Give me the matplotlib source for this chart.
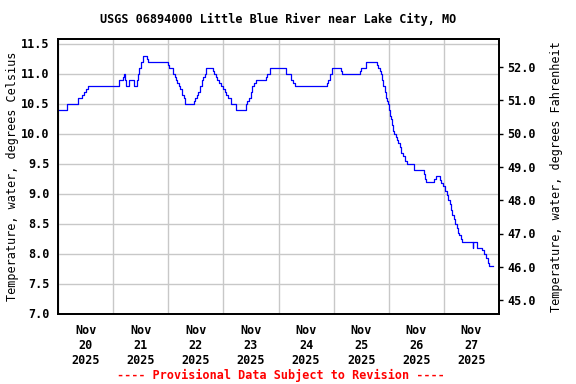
import numpy as np
import pandas as pd
import matplotlib
matplotlib.use("Agg")
import matplotlib.pyplot as plt
from matplotlib.ticker import FormatStrFormatter

# change points of the record: hours after 2025-11-20 00:00 and deg C (10 per line)
hours = [0.0, 3.9, 8.8, 10.3, 11.4, 12.0, 12.9, 26.4, 28.1, 28.7,
         29.1, 29.6, 30.7, 32.9, 34.3, 34.9, 35.3, 36.1, 36.8, 38.8,
         39.3, 48.0, 48.4, 50.1, 50.9, 51.3, 51.9, 52.6, 53.3, 53.9,
         54.8, 55.5, 59.1, 59.7, 60.3, 61.0, 61.7, 62.5, 63.2, 63.9,
         64.6, 67.3, 67.8, 68.7, 69.4, 70.1, 70.9, 71.9, 72.6, 73.3,
         74.1, 75.2, 77.4, 81.7, 82.5, 83.2, 83.9, 84.6, 85.4, 86.1,
         90.4, 91.2, 92.3, 99.4, 101.6, 102.3, 103.0, 117.1, 117.5, 118.6,
         119.3, 123.3, 123.8, 131.3, 132.0, 134.2, 139.0, 139.4, 140.0, 140.6,
         141.2, 141.7, 142.2, 142.6, 143.2, 143.6, 144.0, 144.5, 144.9, 145.4,
         145.8, 146.5, 147.0, 147.4, 148.0, 148.7, 149.4, 150.1, 150.9, 151.9,
         154.9, 155.2, 159.3, 159.9, 160.3, 163.9, 164.7, 166.4, 166.8, 167.8,
         168.6, 169.3, 170.0, 170.7, 171.2, 171.6, 172.3, 173.0, 173.6, 174.3,
         174.8, 175.5, 175.8, 180.6, 180.85, 182.3, 184.6, 185.3, 186.4, 187.1,
         187.5, 189.3]
temp_c = [10.4, 10.5, 10.6, 10.65, 10.7, 10.75, 10.8, 10.9, 10.95, 11.0,
          10.9, 10.8, 10.9, 10.8, 10.9, 11.0, 11.1, 11.2, 11.3, 11.25,
          11.2, 11.15, 11.1, 11.0, 10.95, 10.9, 10.85, 10.8, 10.75, 10.65,
          10.6, 10.5, 10.55, 10.6, 10.65, 10.7, 10.8, 10.9, 10.95, 11.0,
          11.1, 11.05, 11.0, 10.95, 10.9, 10.85, 10.8, 10.75, 10.7, 10.65,
          10.6, 10.5, 10.4, 10.5, 10.55, 10.6, 10.7, 10.8, 10.85, 10.9,
          10.95, 11.0, 11.1, 11.0, 10.9, 10.85, 10.8, 10.85, 10.9, 11.0,
          11.1, 11.05, 11.0, 11.05, 11.1, 11.2, 11.15, 11.1, 11.05, 11.0,
          10.9, 10.8, 10.7, 10.6, 10.55, 10.5, 10.4, 10.3, 10.25, 10.15,
          10.05, 10.0, 9.95, 9.9, 9.85, 9.78, 9.68, 9.62, 9.55, 9.5,
          9.45, 9.4, 9.33, 9.25, 9.2, 9.25, 9.3, 9.22, 9.17, 9.12,
          9.05, 8.97, 8.9, 8.82, 8.73, 8.65, 8.58, 8.5, 8.42, 8.35,
          8.3, 8.25, 8.2, 8.1, 8.2, 8.1, 8.05, 8.0, 7.92, 7.85,
          7.8, 7.8]

start = pd.Timestamp("2025-11-20 00:00")
days = pd.date_range("2025-11-20", "2025-11-28", freq="D")
day_labels = [d.strftime("%b\n%d\n%Y") for d in days[:-1]]
c_ticks = np.arange(7.0, 11.51, 0.5)
f_ticks = np.arange(45.0, 52.01, 1.0)

font = dict(family="DejaVu Sans Mono", weight="bold", size=8.5)
plt.rcParams["font.family"] = "DejaVu Sans Mono"
plt.rcParams["font.weight"] = "bold"
plt.rcParams["font.size"] = 8.5

times = start + pd.to_timedelta(hours, unit="h")

fig = plt.figure(figsize=(5.76, 3.84), dpi=100)
ax = fig.add_axes([58 / 576, 1 - 313.5 / 384, 441 / 576, 274.2 / 384])
ax.plot(times, temp_c, color="#0000ff", lw=0.9, drawstyle="steps-post")

ax.set_xlim(days[0], days[-1])
ax.set_ylim(7.0, 11.57)
ax.set_yticks(c_ticks)
ax.yaxis.set_major_formatter(FormatStrFormatter("%.1f"))
ax.tick_params(axis="y", length=0, pad=6)

ax.set_xticks(days)
ax.set_xticklabels([])
noon = days[:-1] + pd.Timedelta(hours=12)
ax.set_xticks(noon, minor=True)
ax.set_xticklabels(day_labels, minor=True, linespacing=1.2)
ax.tick_params(axis="x", which="both", length=0, pad=7.5)

ax.grid(True, color="#c8c8c8", lw=1.0)
ax.set_axisbelow(True)
for s in ax.spines.values():
    s.set_linewidth(1.3)
ax.set_ylabel("Temperature, water, degrees Celsius", labelpad=1.5)

ax2 = ax.twinx()
lo, hi = ax.get_ylim()
ax2.set_ylim(lo * 1.8 + 32, hi * 1.8 + 32)
ax2.set_yticks(f_ticks)
ax2.yaxis.set_major_formatter(FormatStrFormatter("%.1f"))
ax2.tick_params(axis="y", length=3, width=1, pad=3)
ax2.set_ylabel("Temperature, water, degrees Fahrenheit", labelpad=10.5)
for s in ax2.spines.values():
    s.set_linewidth(1.3)

fig.text(278.5 / 576, 1 - 19 / 384, "USGS 06894000 Little Blue River near Lake City, MO",
         ha="center", va="center", **font)
fig.text(281 / 576, 1 - 375 / 384, "---- Provisional Data Subject to Revision ----",
         ha="center", va="center", color="red", **font)

fig.savefig("out.png", dpi=100)
